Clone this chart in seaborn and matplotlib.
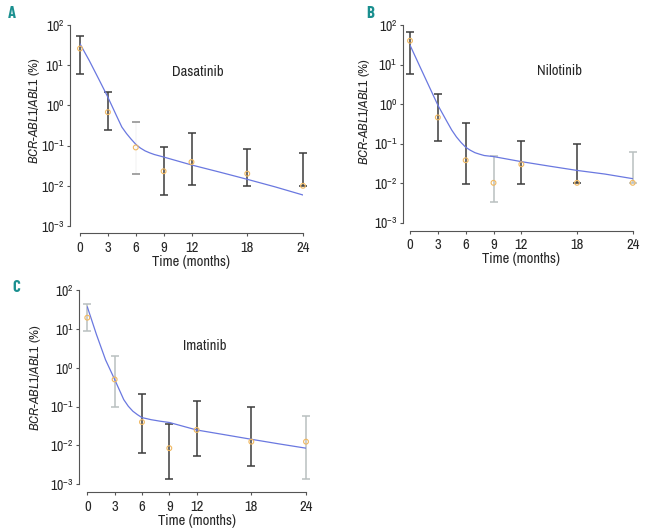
import numpy as np
import matplotlib
matplotlib.use("Agg")
import matplotlib.pyplot as plt
import seaborn as sns

# sampling times (months)
months = [0, 3, 6, 9, 12, 18, 24]
tick_labels = ["0", "3", "6", "9", "12", "18", "24"]
ytick_vals = [1e-3, 1e-2, 1e-1, 1e0, 1e1, 1e2]
ytick_labels = [r"$10^{-3}$", r"$10^{-2}$", r"$10^{-1}$", r"$10^{0}$",
                r"$10^{1}$", r"$10^{2}$"]

# Dasatinib: median, upper, lower (% BCR-ABL1/ABL1)
dasa_med = [26, 0.68, 0.09, 0.023, 0.039, 0.02, 0.01]
dasa_hi = [53, 2.2, 0.38, 0.09, 0.2, 0.08, 0.066]
dasa_lo = [6, 0.24, 0.02, 0.0058, 0.0104, 0.01, 0.01]
dasa_bar = ["dark", "dark", "none", "dark", "dark", "dark", "dark"]

# Nilotinib
nilo_med = [40, 0.46, 0.038, 0.0102, 0.03, 0.0102, 0.0102]
nilo_hi = [65, 1.83, 0.33, 0.05, 0.118, 0.1, 0.063]
nilo_lo = [5.8, 0.115, 0.0098, 0.0034, 0.0098, 0.0102, 0.0102]
nilo_bar = ["dark", "dark", "dark", "light", "dark", "dark", "light"]

# Imatinib
ima_med = [19.4, 0.5, 0.04, 0.0085, 0.025, 0.0125, 0.0125]
ima_hi = [43, 2.0, 0.21, 0.036, 0.14, 0.1, 0.058]
ima_lo = [8.8, 0.1, 0.0065, 0.0014, 0.0052, 0.0029, 0.0014]
ima_bar = ["light", "light", "dark", "dark", "dark", "dark", "light"]

# fitted decline curves
fit_t = [0, 1, 2, 3, 4, 4.5, 5, 5.5, 6, 6.5, 7, 7.5, 8, 9, 12, 15, 18, 21, 24]
dasa_fit = [34, 13, 4.6, 1.6, 0.51, 0.29, 0.2, 0.145, 0.108, 0.087, 0.074,
            0.066, 0.06, 0.052, 0.033, 0.022, 0.0145, 0.0094, 0.0059]
nilo_fit = [31, 9.6, 3.0, 0.94, 0.355, 0.22, 0.148, 0.107, 0.081, 0.068,
            0.059, 0.054, 0.05, 0.047, 0.035, 0.027, 0.021, 0.017, 0.013]
ima_fit = [37, 7.2, 1.6, 0.5, 0.151, 0.102, 0.076, 0.062, 0.052, 0.049,
           0.046, 0.044, 0.042, 0.039, 0.025, 0.019, 0.0144, 0.011, 0.0085]

sns.set_style("ticks")
plt.rcParams["font.family"] = ["Archivo Narrow", "Liberation Sans", "DejaVu Sans"]
plt.rcParams["mathtext.fontset"] = "custom"
plt.rcParams["mathtext.rm"] = "Archivo Narrow"
plt.rcParams["mathtext.it"] = "Archivo Narrow:italic"

fig = plt.figure(figsize=(6.48, 5.31), dpi=100)

W, H = 648, 531
panels = [
    # name, letter, left, right, top, bottom px, spine offsets,
    # drug label pos, letter pos, ylabel pos, data
    ("Dasatinib", "A", 80, 303, 25, 226, 10, 7, (0.53, 0.768), (8, 13),
     (41.5, 0.575), dasa_med, dasa_hi, dasa_lo, dasa_bar, dasa_fit),
    ("Nilotinib", "B", 410, 632.7, 25, 222.7, 7, 8, (0.67, 0.767), (366, 14),
     (372, 0.56), nilo_med, nilo_hi, nilo_lo, nilo_bar, nilo_fit),
    ("Imatinib", "C", 87.3, 306, 290, 484.3, 8, 8, (0.538, 0.712), (12, 287),
     (43.3, 0.55), ima_med, ima_hi, ima_lo, ima_bar, ima_fit),
]

colors = {"dark": "#3c3c3c", "light": "#b9c0c0", "none": "#8a8a8a"}

for (name, letter, l, r, t, b, offl, offb, txy, lxy, yl,
     med, hi, lo, bars, fit) in panels:
    ax = fig.add_axes([l / W, 1 - b / H, (r - l) / W, (b - t) / H])
    ax.set_yscale("log")

    for i, m in enumerate(months):
        c = colors[bars[i]]
        eb = ax.errorbar([m], [med[i]],
                         yerr=[[med[i] - lo[i]], [hi[i] - med[i]]],
                         fmt="none", ecolor=c, elinewidth=1.1,
                         capsize=3.2, capthick=1.1, clip_on=False, zorder=2)
        if bars[i] == "none":
            for lc in eb[2]:
                lc.set_color("#f6f6f6")

    sns.lineplot(x=fit_t, y=fit, ax=ax, color="#6a78e0", linewidth=0.9,
                 zorder=3)
    sns.scatterplot(x=months, y=med, ax=ax, marker="o", s=12,
                    facecolor="none", edgecolor="#f0b860", linewidth=0.8,
                    zorder=4, clip_on=False)

    ax.set_xlim(0, 24)
    ax.set_ylim(1e-3, 1e2)
    ax.set_xticks(months)
    ax.set_xticklabels(tick_labels)
    ax.set_yticks(ytick_vals)
    ax.set_yticklabels(ytick_labels)
    ax.minorticks_off()
    ax.tick_params(axis="both", labelsize=10, length=2.5, width=0.8,
                   color="#555555", pad=1.5)
    ax.tick_params(axis="x", labelsize=10.5, pad=3)
    sns.despine(ax=ax)
    ax.spines["left"].set_position(("outward", offl * 0.72))
    ax.spines["bottom"].set_position(("outward", offb * 0.72))
    for s in ("left", "bottom"):
        ax.spines[s].set_color("#555555")
        ax.spines[s].set_linewidth(0.8)

    ax.set_xlabel("Time (months)", fontsize=10.5, labelpad=0)
    ax.set_ylabel(r"$\it{BCR}$-$\it{ABL1/ABL1}$ (%)", fontsize=9.8)
    ax.yaxis.set_label_coords((yl[0] - l) / (r - l), yl[1])
    ax.text(txy[0], txy[1], name, transform=ax.transAxes, fontsize=10.5,
            ha="center", va="center")
    fig.text(lxy[0] / W, 1 - lxy[1] / H, letter, fontsize=12,
             family=["Barlow Condensed", "Liberation Sans"],
             fontweight="bold", color="#1a8f8f", ha="left", va="center")

fig.savefig("out.png", dpi=100)
